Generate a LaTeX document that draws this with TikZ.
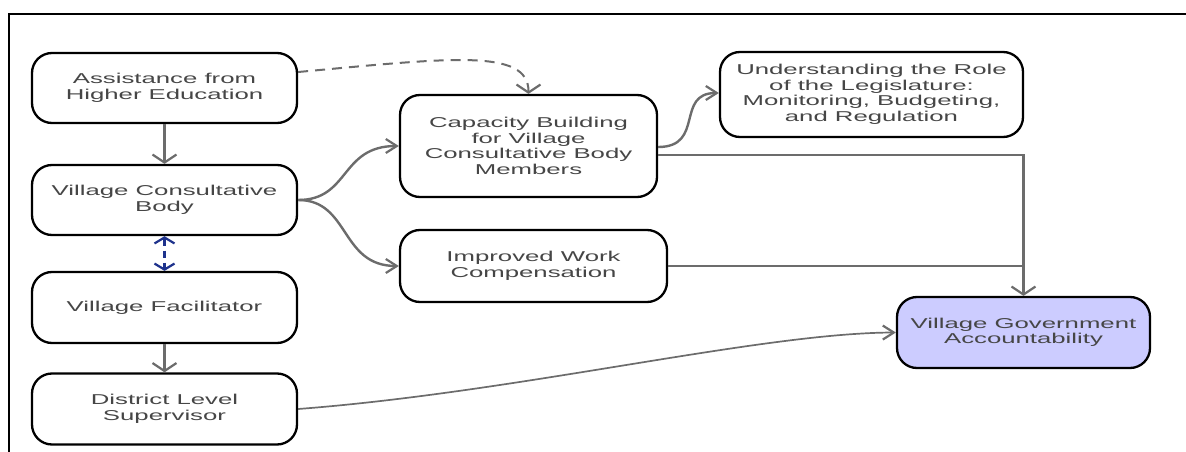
\documentclass[tikz,border=0pt]{standalone}
\usepackage{fontspec}
\setmainfont[FakeStretch=1.8]{Liberation Sans}
\usetikzlibrary{arrows.meta}
\definecolor{txt}{RGB}{70,70,70}
\definecolor{edge}{RGB}{108,108,108}
\definecolor{navy}{RGB}{30,50,140}
\definecolor{goal}{RGB}{204,204,255}

\begin{document}
\begin{tikzpicture}[x=1pt,y=-1pt,
  box/.style={draw=black, line width=2.3pt, rounded corners=20pt, fill=white,
    align=center, text=txt, inner sep=0pt,
    font=\fontsize{14.3}{15.5}\selectfont},
  vtip/.style={-{Straight Barb[length=8pt,width=24pt,line width=2.2pt]}},
  htip/.style={-{Straight Barb[length=11pt,width=14pt,line width=2.2pt]}},
  link/.style={draw=edge, line width=2.4pt},
  thin link/.style={draw=edge, line width=1.7pt},
  hint/.style={draw=edge, line width=2pt, dash pattern=on 10pt off 7pt},
  peer/.style={draw=navy, line width=2.4pt, dash pattern=on 7pt off 5pt,
    {Straight Barb[length=6pt,width=20pt,line width=2.2pt]}-{Straight Barb[length=6pt,width=20pt,line width=2.2pt]}}
]
\useasboundingbox (0,0) rectangle (1186,452);

% outer frame (top and left edges only)
\draw[line width=2pt] (9,452) -- (9,14) -- (1186,14);

% left column
\node[box, minimum width=265pt, minimum height=70pt] (A) at (164.5,88)
  {Assistance from\\Higher Education};
\node[box, minimum width=265pt, minimum height=70pt] (VCB) at (164.5,200)
  {Village Consultative\\Body};
\node[box, minimum width=265pt, minimum height=71pt] (VF) at (164.5,307.5)
  {Village Facilitator};
\node[box, minimum width=265pt, minimum height=71pt] (DLS) at (164.5,409)
  {District Level\\Supervisor};

% middle column
\node[box, minimum width=257pt, minimum height=102pt] (CB) at (528.5,146)
  {Capacity Building\\for Village\\Consultative Body\\Members};
\node[box, minimum width=267pt, minimum height=72pt] (IWC) at (533.5,266)
  {Improved Work\\Compensation};

% right column
\node[box, minimum width=303pt, minimum height=85pt] (UR) at (871.5,94.5)
  {Understanding the Role\\of the Legislature:\\Monitoring, Budgeting,\\and Regulation};
\node[box, fill=goal, minimum width=253pt, minimum height=71pt] (VGA) at (1023.5,332.5)
  {Village Government\\Accountability};

% vertical links in the left column
\draw[link, vtip] (A) -- (VCB);
\draw[peer] (VCB) -- (VF);
\draw[link, vtip] (VF) -- (DLS);

% support from higher education
\draw[hint, vtip] ([yshift=16pt]A.east) .. controls (450,58) and (528.5,48) .. (CB.north);

% branches out of the consultative body
\draw[link, htip] (VCB.east) .. controls (350,200) and (340,146) .. (CB.west);
\draw[link, htip] (VCB.east) .. controls (350,200) and (340,266) .. (IWC.west);
\draw[link, htip] ([yshift=-1pt]CB.east) .. controls (705,147) and (675,93) .. ([yshift=1.5pt]UR.west);

% routes into accountability
\draw[thin link, line width=2.1pt, vtip] ([yshift=-9pt]CB.east) -| (VGA.north);
\draw[thin link, line width=2.1pt] (IWC.east) -- (IWC.east -| VGA.north);
\draw[thin link, htip] (DLS.east) .. controls (520,392) and (760,333) .. (VGA.west);
\end{tikzpicture}
\end{document}
